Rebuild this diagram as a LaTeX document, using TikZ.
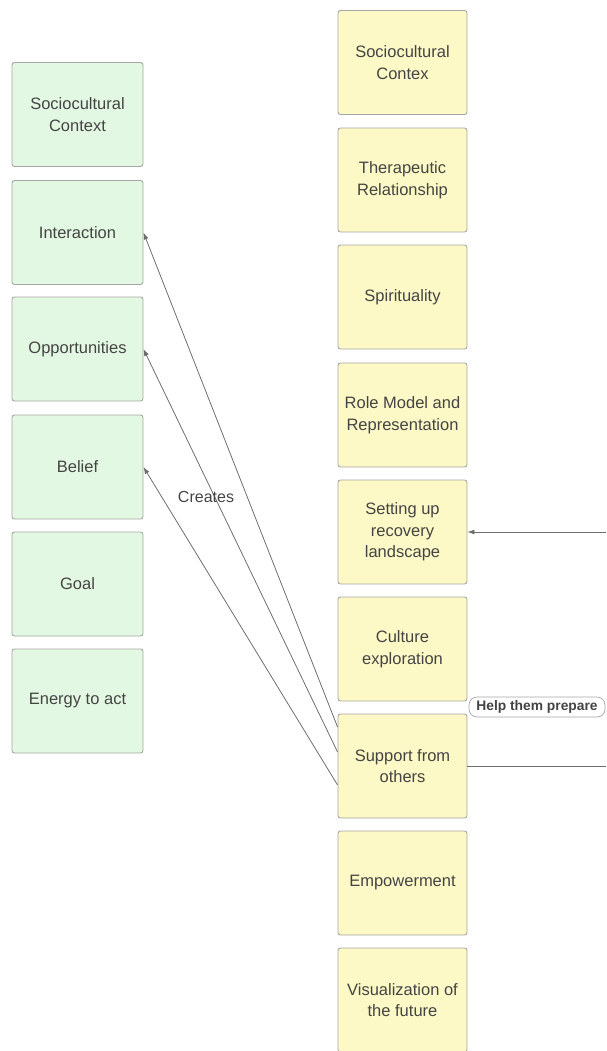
\documentclass[tikz,border=0pt]{standalone}
\usepackage{fontspec}
\setmainfont{Liberation Sans}
\usetikzlibrary{arrows.meta, positioning}
\definecolor{factgreen}{HTML}{E3F8E3}
\definecolor{stepyellow}{HTML}{FCF9C6}
\definecolor{boxgrey}{HTML}{A6A6A6}
\definecolor{linegrey}{HTML}{6E6E6E}
\definecolor{textgrey}{HTML}{444444}

\begin{document}
\begin{tikzpicture}[
    x=1pt, y=-1pt,
    card/.style={draw=boxgrey, fill=#1, rounded corners=2.5pt, line width=0.9pt,
      minimum height=104pt, inner sep=2pt, align=center, text=textgrey,
      font=\fontsize{16.5}{21.5}\selectfont},
    leftcard/.style={card=factgreen, minimum width=131pt},
    rightcard/.style={card=stepyellow, minimum width=129pt},
    link/.style={-{Latex[length=7pt, width=5pt]}, linegrey, line width=0.8pt},
]
    \useasboundingbox (0,0) rectangle (606,1051);

    % Left column
    \node[leftcard] (lsoc) at (77.5, 114.5) {Sociocultural\\Context};
    \node[leftcard] (inter) at (77.5, 232.5) {Interaction};
    \node[leftcard] (opp) at (77.5, 349) {Opportunities};
    \node[leftcard] (belief) at (77.5, 467) {Belief};
    \node[leftcard] (goal) at (77.5, 584) {Goal};
    \node[leftcard] (energy) at (77.5, 701) {Energy to act};

    % Right column
    \node[rightcard] (rsoc) at (402.5, 62.5) {Sociocultural\\Contex};
    \node[rightcard] (thera) at (402.5, 180) {Therapeutic\\Relationship};
    \node[rightcard] (spirit) at (402.5, 297) {Spirituality};
    \node[rightcard] (role) at (402.5, 415) {Role Model and\\Representation};
    \node[rightcard] (setup) at (402.5, 532) {Setting up\\recovery\\landscape};
    \node[rightcard] (culture) at (402.5, 649) {Culture\\exploration};
    \node[rightcard] (support) at (402.5, 766) {Support from\\others};
    \node[rightcard] (empower) at (402.5, 883) {Empowerment};
    \node[rightcard] (vision) at (402.5, 1000) {Visualization of\\the future};

    % Support feeds the left column
    \draw[link] ([yshift=39pt]support.west) -- (inter.east);
    \draw[link] ([yshift=14pt]support.west) -- (opp.east);
    \draw[link] ([yshift=-19pt]support.west) -- (belief.east);
    \node[text=textgrey, font=\fontsize{16}{19}\selectfont] (creates) at (206, 497) {Creates};

    % Connectors leaving the page on the right
    \coordinate (offin) at (606, 532);
    \coordinate (offout) at (606, 766);
    \draw[link] (offin) -- (setup.east);
    \draw[linegrey, line width=0.8pt] (support.east) -- (offout);
    \node[draw=boxgrey, fill=white, rounded corners=8pt, line width=0.7pt,
      minimum width=136pt, minimum height=20pt, inner sep=1pt, text=textgrey,
      font=\fontsize{13.8}{15}\selectfont\bfseries] (prepare) at (537, 707) {Help them prepare};
\end{tikzpicture}
\end{document}
